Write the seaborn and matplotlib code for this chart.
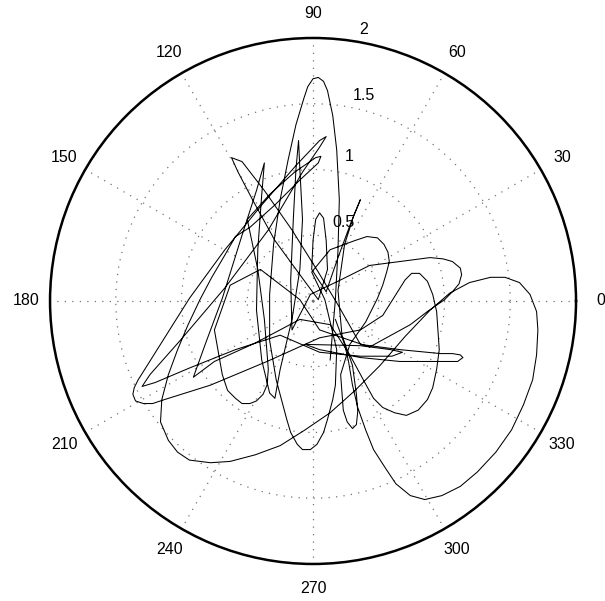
import numpy as np
import pandas as pd
import seaborn as sns
import matplotlib
matplotlib.use("Agg")
import matplotlib.pyplot as plt

# trajectory, (east, north) in radius units, in drawing order
tall_loop = [(0.13, -0.45), (0.17, 0.01), (0.19, 0.39), (0.20, 0.77), (0.18, 1.15), (0.15, 1.41),
             (0.11, 1.60), (0.08, 1.67), (0.04, 1.70), (0.00, 1.69), (-0.04, 1.63), (-0.07, 1.54),
             (-0.13, 1.34), (-0.19, 1.07), (-0.25, 0.77), (-0.30, 0.43), (-0.33, 0.05), (-0.33, -0.30),
             (-0.28, -0.60), (-0.20, -0.90), (-0.17, -1.00), (-0.12, -1.09), (-0.08, -1.13), (-0.02, -1.13),
             (0.03, -1.09), (0.08, -1.00), (0.11, -0.90), (0.15, -0.75), (0.17, -0.64), (0.18, -0.37)]
small_loop = [(0.09, 0.01), (-0.01, 0.22), (0.13, 0.39), (0.32, 0.46), (0.41, 0.49), (0.49, 0.48),
              (0.54, 0.43), (0.57, 0.37), (0.58, 0.30), (0.56, 0.22), (0.53, 0.12), (0.49, 0.02),
              (0.40, -0.16), (0.28, -0.33)]
narrow_low = [(0.21, -0.56), (0.23, -0.83), (0.26, -0.92), (0.30, -0.97), (0.33, -0.94), (0.34, -0.84),
              (0.33, -0.71), (0.30, -0.49), (0.22, -0.26)]
spike = [(0.19, 0.08), (0.24, 0.43), (0.31, 0.65), (0.36, 0.77), (0.29, 0.60), (0.19, 0.33), (0.10, 0.07)]
narrow_mid = [(-0.01, 0.24), (0.00, 0.46), (0.02, 0.62), (0.05, 0.67), (0.08, 0.63), (0.10, 0.46),
              (0.11, 0.24), (0.04, 0.01)]
upleft_loop = [(-0.10, 0.20), (-0.29, 0.46), (-0.46, 0.77), (-0.57, 0.98), (-0.62, 1.09), (-0.54, 1.06),
               (-0.37, 0.84), (-0.16, 0.54), (0.04, 0.22), (0.19, -0.03)]
flat_loop = [(0.36, -0.33), (0.66, -0.37), (0.97, -0.40), (1.06, -0.40), (1.12, -0.41), (1.14, -0.43),
             (1.10, -0.46), (1.00, -0.46), (0.66, -0.46), (0.36, -0.43), (0.05, -0.37)]
flat_short = [(-0.06, -0.33), (0.36, -0.34), (0.59, -0.37), (0.68, -0.39), (0.60, -0.42), (0.36, -0.42),
              (0.05, -0.39)]
zigzag_a = [(-0.25, -0.26), (-0.59, -0.37), (-0.94, -0.51), (-1.20, -0.62), (-1.30, -0.65), (-1.24, -0.56),
            (-1.01, -0.30), (-0.67, 0.10), (-0.34, 0.54), (-0.08, 0.98), (0.05, 1.17), (0.10, 1.25),
            (0.05, 1.22), (-0.13, 1.03), (-0.39, 0.73), (-0.67, 0.39), (-0.94, 0.02), (-1.16, -0.33),
            (-1.33, -0.60), (-1.36, -0.66), (-1.37, -0.71), (-1.35, -0.76), (-1.29, -0.78), (-1.22, -0.78),
            (-1.13, -0.75), (-0.78, -0.64), (-0.35, -0.46), (0.05, -0.28)]
egg_right = [(0.36, -0.22), (0.53, -0.11), (0.65, 0.08), (0.70, 0.16), (0.75, 0.21), (0.81, 0.21),
             (0.87, 0.15), (0.91, 0.05), (0.94, -0.08), (0.96, -0.37), (0.94, -0.52), (0.91, -0.66),
             (0.87, -0.75), (0.80, -0.83), (0.71, -0.87), (0.62, -0.85), (0.53, -0.81), (0.46, -0.74),
             (0.41, -0.65), (0.28, -0.41), (0.13, -0.18)]
zigzag_b = [(-0.10, -0.14), (-0.44, -0.32), (-0.75, -0.46), (-0.91, -0.58), (-0.82, -0.33), (-0.69, 0.02),
            (-0.54, 0.50), (-0.43, 0.84), (-0.37, 1.05), (-0.39, 0.81), (-0.42, 0.39), (-0.43, -0.07),
            (-0.39, -0.45), (-0.33, -0.70), (-0.29, -0.74), (-0.25, -0.52), (-0.16, -0.14), (-0.10, 0.24),
            (-0.08, 0.62), (-0.10, 1.00), (-0.11, 1.22), (-0.13, 1.00), (-0.15, 0.62), (-0.17, 0.16),
            (-0.16, -0.22)]
oval_top = [(-0.02, 0.05), (0.21, 0.16), (0.43, 0.27), (0.74, 0.31), (0.89, 0.33), (0.99, 0.32),
            (1.06, 0.30), (1.12, 0.25), (1.13, 0.20), (1.11, 0.13), (1.06, 0.07), (1.00, 0.01),
            (0.87, -0.08), (0.74, -0.18), (0.43, -0.35), (0.05, -0.22)]
egg_left = [(-0.10, 0.01), (-0.40, 0.24), (-0.63, 0.12), (-0.75, -0.22), (-0.69, -0.56), (-0.65, -0.68),
            (-0.59, -0.74), (-0.54, -0.78), (-0.48, -0.78), (-0.43, -0.76), (-0.38, -0.71), (-0.35, -0.64),
            (-0.34, -0.52), (-0.37, -0.14), (-0.42, 0.24), (-0.50, 0.62)]
thin_loop = [(-0.33, 0.81), (-0.14, 0.98), (0.02, 1.09), (0.06, 1.10), (0.04, 1.05), (-0.10, 0.92),
             (-0.29, 0.73), (-0.48, 0.56)]
big_sweep = [(-0.59, 0.49), (-0.67, 0.35), (-0.77, 0.18), (-0.86, 0.01), (-0.95, -0.18), (-1.03, -0.37),
             (-1.10, -0.56), (-1.15, -0.75), (-1.16, -0.92), (-1.10, -1.06), (-1.03, -1.15), (-0.94, -1.21),
             (-0.78, -1.23), (-0.63, -1.22), (-0.44, -1.17), (-0.25, -1.10), (-0.06, -0.98), (0.13, -0.85),
             (0.32, -0.68), (0.51, -0.49), (0.70, -0.27), (0.89, -0.07), (1.04, 0.06), (1.19, 0.14),
             (1.35, 0.18), (1.46, 0.18), (1.57, 0.14), (1.65, 0.05), (1.70, -0.08), (1.71, -0.22),
             (1.70, -0.41), (1.67, -0.60), (1.60, -0.79), (1.51, -0.98), (1.39, -1.15), (1.25, -1.30),
             (1.12, -1.41), (0.98, -1.48), (0.85, -1.51), (0.74, -1.48), (0.63, -1.39), (0.55, -1.27),
             (0.46, -1.13), (0.40, -0.98), (0.34, -0.81), (0.30, -0.64), (0.27, -0.46), (0.24, -0.33),
             (0.17, -0.14)]

r_ticks = [0.5, 1, 1.5, 2]
r_label_angle = [69, 76, 76, 79.5]
r_label_pos = [0.64, 1.13, 1.61, 2.10]
theta_ticks = list(range(0, 360, 30))

trace = np.array(tall_loop + small_loop + narrow_low + spike + narrow_mid + upleft_loop + flat_loop
                 + flat_short + zigzag_a + egg_right + zigzag_b + oval_top + egg_left + thin_loop
                 + big_sweep)
df = pd.DataFrame({"theta": np.arctan2(trace[:, 1], trace[:, 0]),
                   "r": np.hypot(trace[:, 0], trace[:, 1])})

sns.set_style("white")
plt.rcParams["font.family"] = ["Liberation Sans", "DejaVu Sans"]

fig = plt.figure(figsize=(6.05, 6.01), dpi=100)
ax = fig.add_axes([0.0827, 0.0616, 0.8694, 0.8752], projection="polar")

sns.lineplot(data=df, x="theta", y="r", sort=False, estimator=None,
             color="black", linewidth=0.75, ax=ax)

ax.set_ylim(0, 2)
ax.set_rticks(r_ticks)
ax.set_yticklabels([])
ax.set_xticks(np.deg2rad(theta_ticks))
ax.set_xticklabels([])
ax.set_xlabel("")
ax.set_ylabel("")
ax.grid(True, color="0.45", linestyle=(0, (1, 5)), linewidth=0.9)
ax.spines["polar"].set_color("black")
ax.spines["polar"].set_linewidth(1.8)

for t in theta_ticks:
    ax.text(np.deg2rad(t), 2.185, str(t), ha="center", va="center", fontsize=11.5, color="black")
for tick, ang, pos in zip(r_ticks, r_label_angle, r_label_pos):
    ax.text(np.deg2rad(ang), pos, f"{tick:g}", ha="center", va="center", fontsize=11.5, color="black")

fig.savefig("out.png", dpi=100)
